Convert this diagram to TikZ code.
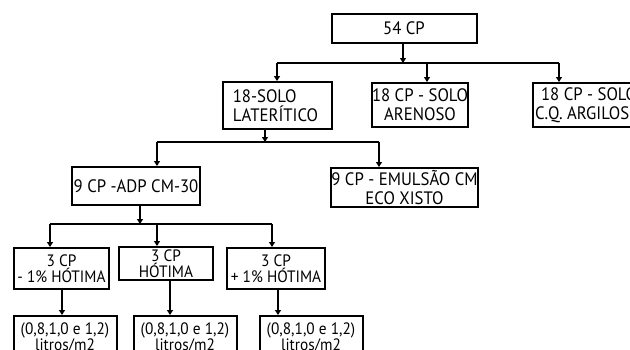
\documentclass[tikz,border=0pt]{standalone}
\usepackage{fontspec}
\setmainfont{PT Sans}[FakeStretch=0.93]
\usetikzlibrary{arrows.meta}

\begin{document}
\begin{tikzpicture}[x=1pt, y=-1pt,
    caixa/.style={draw, line width=2pt, inner sep=0pt, align=center,
        font=\fontsize{18}{19}\selectfont},
    menor/.style={font=\fontsize{16.5}{16}\selectfont},
    seta/.style={line width=1.8pt, -{Triangle[length=5pt,width=6pt]}},
    linha/.style={line width=1.8pt}]
    \useasboundingbox (0,0) rectangle (630,349);
    \clip (0,0) rectangle (630,349);

    % nivel 1
    \node [caixa, minimum width=145pt, minimum height=29pt] (cp54) at (404,28.5) {54 CP};
    \node [caixa, minimum width=109pt, minimum height=47pt, align=left] (laterit) at (277.5,105.5)
        {18-SOLO\\LATERÍTICO\hspace*{4pt}};
    \node [caixa, minimum width=74pt, minimum height=44pt] (arenoso) at (420,105) {18 CP - SOLO\\ARENOSO};
    \node [caixa, minimum width=126pt, minimum height=44pt, align=left] (argil) at (596,105)
        {\hspace*{6pt}18 CP - SOLO\hspace*{20pt}\\C.Q. ARGILOSO\hspace*{10pt}};

    \coordinate (j1) at (403,63);
    \draw [seta] (cp54.south -| j1) -- (j1);
    \draw [linha] (277,63) coordinate (a1) -- (559,63) coordinate (a3);
    \coordinate (a2) at (427,63);
    \draw [seta] (a1) -- (a1 |- laterit.north);
    \draw [seta] (a2) -- (a2 |- arenoso.north);
    \draw [seta] (a3) -- (a3 |- argil.north);

    % nivel 2
    \node [caixa, minimum width=128pt, minimum height=38pt] (adp) at (136,186) {9 CP -ADP CM-30};
    \node [caixa, minimum width=135pt, minimum height=39pt] (emuls) at (404.5,187.5)
        {9 CP - EMULSÃO CM\\ECO XISTO};

    \coordinate (j2) at (265,142);
    \draw [seta] (laterit.south -| j2) -- (j2);
    \draw [linha] (157,142) coordinate (b1) -- (379,142) coordinate (b2);
    \draw [seta] (b1) -- (b1 |- adp.north);
    \draw [seta] (b2) -- (b2 |- emuls.north);

    % nivel 3
    \node [caixa, menor, minimum width=95pt, minimum height=41pt] (hmenos) at (61.5,268.5) {3 CP\\- 1\% HÓTIMA};
    \node [caixa, menor, minimum width=94pt, minimum height=33pt] (hot) at (166,263.5) {3 CP\\HÓTIMA};
    \node [caixa, menor, minimum width=98pt, minimum height=41pt] (hmais) at (276,268.5) {3 CP\\+ 1\% HÓTIMA};

    \coordinate (j3) at (140,224);
    \draw [seta] (adp.south -| j3) -- (j3);
    \draw [linha] (50,224) coordinate (c1) -- (272,224) coordinate (c3);
    \coordinate (c2) at (157,224);
    \draw [seta] (c1) -- (c1 |- hmenos.north);
    \draw [seta] (c2) -- (c2 |- hot.north);
    \draw [seta] (c3) -- (c3 |- hmais.north);

    % taxas
    \foreach \nome/\cx/\sx/\de in {tx1/65/62/hmenos, tx2/185/170/hot, tx3/311/278/hmais} {
        \node [caixa, menor, minimum width=103pt, minimum height=44pt, anchor=north] (\nome) at (\cx,315)
            {(0,8,1,0 e 1,2)\\litros/m2};
        \draw [seta] (\de.south -| \sx,0) -- (\nome.north -| \sx,0);
    }
\end{tikzpicture}
\end{document}
